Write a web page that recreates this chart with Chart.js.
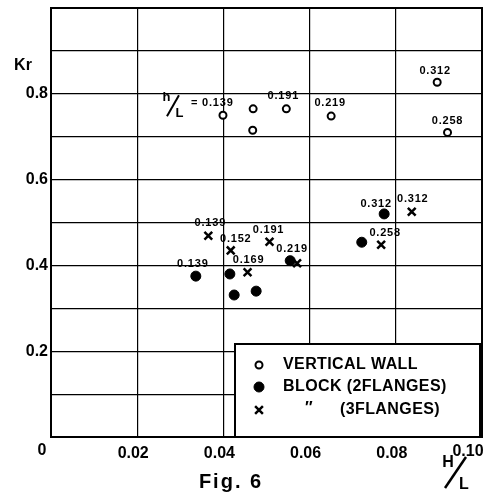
<!DOCTYPE html>
<html><head><meta charset="utf-8">
<script src="https://cdn.jsdelivr.net/npm/chart.js@4/dist/chart.umd.min.js"></script>
<style>html,body{margin:0;padding:0;background:#fff;}canvas{display:block;}</style>
</head><body>
<canvas id="c" width="494" height="496"></canvas>
<script>
// ---- data ----
const seriesNames = ['VERTICAL WALL', 'BLOCK (2FLANGES)', '(3FLANGES)'];
const wallX   = [0.0399, 0.0469, 0.0468, 0.0546, 0.0650, 0.0896, 0.0920];
const wallY   = [0.750, 0.765, 0.715, 0.765, 0.748, 0.827, 0.710];
const wallLabels = ['0.139', '', '', '0.191', '0.219', '0.312', '0.258'];
const block2X = [0.0336, 0.0415, 0.0425, 0.0476, 0.0555, 0.0721, 0.0773];
const block2Y = [0.375, 0.380, 0.331, 0.340, 0.411, 0.454, 0.520];
const block2Labels = ['0.139', '', '', '', '', '', '0.312'];
const block3X = [0.0365, 0.0417, 0.0456, 0.0507, 0.0571, 0.0766, 0.0837];
const block3Y = [0.469, 0.435, 0.384, 0.455, 0.405, 0.448, 0.525];
const block3Labels = ['0.139', '0.152', '0.169', '0.191', '0.219', '0.258', '0.312'];
const xTickValues = [0, 0.02, 0.04, 0.06, 0.08, 0.10];
const xTickLabels = ['0', '0.02', '0.04', '0.06', '0.08', '0.10'];
const yTickValues = [0.2, 0.4, 0.6, 0.8];
const yTickLabels = ['0.2', '0.4', '0.6', '0.8'];
const yAxisTitle = 'Kr';
const figTitle = 'Fig. 6';

const pts = (xs, ys) => xs.map((x, i) => ({x: x, y: ys[i]}));
const FONT = '"Liberation Sans", Arial, sans-serif';

// label offsets (pixel) per dataset/point, style only
const labelOffsets = [
  [null, null, null, [-3,-13], [-1,-13], [-2,-11], [0,-11]],
  [[-3,-12], null, null, null, null, null, [-8,-10]],
  [[2,-13], [5,-11], [1,-12], [-1,-12], [-5,-14], [4,-12], [1,-13]]
];
const allLabels = [wallLabels, block2Labels, block3Labels];

function findTick(values, labels, v) {
  for (let i = 0; i < values.length; i++) if (Math.abs(values[i] - v) < 1e-6) return labels[i];
  return '';
}

const annotate = {
  id: 'annotate',
  afterDatasetsDraw(chart) {
    const ctx = chart.ctx, a = chart.chartArea;
    ctx.save();
    // outer frame
    ctx.strokeStyle = '#000'; ctx.lineWidth = 2;
    ctx.strokeRect(a.left, a.top, a.right - a.left, a.bottom - a.top);

    // end tick labels of the x axis (placed like the original: corner "0", raised "0.10")
    const xs = chart.scales.x;
    ctx.fillStyle = '#000';
    ctx.font = 'bold 16px ' + FONT;
    ctx.textAlign = 'center'; ctx.textBaseline = 'middle';
    ctx.fillText(xTickLabels[0], xs.getPixelForValue(xTickValues[0]) - 9, a.bottom + 14);
    ctx.fillText(xTickLabels[xTickLabels.length - 1], xs.getPixelForValue(xTickValues[xTickValues.length - 1]) - 14, a.bottom + 15);

    // point labels
    ctx.font = 'bold 11px ' + FONT;
    ctx.letterSpacing = '0.8px';
    chart.data.datasets.forEach((ds, di) => {
      const meta = chart.getDatasetMeta(di);
      meta.data.forEach((el, i) => {
        const txt = allLabels[di][i];
        if (!txt) return;
        if (di === 0 && i === 0) {
          // "h/L = 0.139"
          const px = el.x, py = el.y;
          ctx.textAlign = 'left';
          ctx.fillText('= ' + txt, px - 32, py - 12);
          ctx.font = 'bold 13px ' + FONT;
          ctx.textAlign = 'center';
          ctx.fillText('h', px - 56, py - 18);
          ctx.fillText('L', px - 43, py - 2);
          ctx.lineWidth = 2;
          ctx.beginPath(); ctx.moveTo(px - 56, py + 1); ctx.lineTo(px - 44, py - 20); ctx.stroke();
          ctx.font = 'bold 11px ' + FONT;
          return;
        }
        const off = labelOffsets[di][i] || [0, -12];
        ctx.fillText(txt, el.x + off[0], el.y + off[1]);
      });
    });
    ctx.letterSpacing = '0px';

    // legend box
    const lx = 235, ly = 344, lw = a.right - 2 - lx, lh = a.bottom - ly;
    ctx.fillStyle = '#fff';
    ctx.fillRect(lx, ly, lw, lh);
    ctx.strokeStyle = '#000'; ctx.lineWidth = 2;
    ctx.strokeRect(lx, ly, lw, lh);
    const rows = [365, 387, 410];
    chart.data.datasets.forEach((ds, di) => {
      ctx.fillStyle = ds.backgroundColor; ctx.strokeStyle = ds.borderColor; ctx.lineWidth = ds.borderWidth;
      Chart.helpers.drawPoint(ctx, {pointStyle: ds.pointStyle, radius: ds.pointRadius, borderWidth: ds.borderWidth, rotation: 0}, 259, rows[di]);
    });
    ctx.fillStyle = '#000';
    ctx.font = 'bold 16px ' + FONT;
    ctx.letterSpacing = '0.4px';
    ctx.textAlign = 'left'; ctx.textBaseline = 'middle';
    ctx.fillText(seriesNames[0], 283, rows[0]);
    ctx.fillText(seriesNames[1], 283, rows[1]);
    ctx.fillText('\u2033', 305, rows[2] - 1);
    ctx.fillText(seriesNames[2], 340, rows[2]);

    // y axis title
    ctx.font = 'bold 16px ' + FONT;
    ctx.letterSpacing = '0px';
    ctx.textAlign = 'center';
    ctx.fillText(yAxisTitle, 23, 66);

    // Fig. 6
    ctx.font = 'bold 20px ' + FONT;
    ctx.letterSpacing = '2px';
    ctx.fillText(figTitle, 231, 482);
    ctx.letterSpacing = '0px';

    // H/L axis title
    ctx.font = 'bold 16px ' + FONT;
    ctx.fillText('H', 448, 463);
    ctx.fillText('L', 464, 485);
    ctx.lineWidth = 2.5;
    ctx.beginPath(); ctx.moveTo(445, 488); ctx.lineTo(466, 457); ctx.stroke();
    ctx.restore();
  }
};

new Chart(document.getElementById('c'), {
  type: 'scatter',
  data: {
    datasets: [
      {label: seriesNames[0], data: pts(wallX, wallY), pointStyle: 'circle', pointRadius: 3.5,
       borderWidth: 2, backgroundColor: '#fff', borderColor: '#000'},
      {label: seriesNames[1], data: pts(block2X, block2Y), pointStyle: 'circle', pointRadius: 5,
       borderWidth: 1, backgroundColor: '#000', borderColor: '#000'},
      {label: seriesNames[2], data: pts(block3X, block3Y), pointStyle: 'crossRot', pointRadius: 5.5,
       borderWidth: 2.5, backgroundColor: '#000', borderColor: '#000'}
    ]
  },
  options: {
    responsive: false, animation: false, devicePixelRatio: 1,
    layout: {padding: {left: 0, right: 12, top: 8, bottom: 0}},
    plugins: {legend: {display: false}, tooltip: {enabled: false}},
    scales: {
      x: {
        type: 'linear', min: 0, max: 0.1,
        ticks: {stepSize: 0.02, autoSkip: false, maxRotation: 0, padding: 7, labelOffset: -4,
          color: '#000', font: {family: FONT, size: 16, weight: 'bold'},
          callback: (v, i, ticks) => (i === 0 || i === ticks.length - 1) ? '' : findTick(xTickValues, xTickLabels, v)},
        grid: {color: '#000', lineWidth: 1.2, drawTicks: false},
        border: {color: '#000', width: 2},
        afterFit(s) { s.height = 59; s.paddingLeft = 0; s.paddingRight = 0; }
      },
      y: {
        type: 'linear', min: 0, max: 1,
        ticks: {stepSize: 0.1, autoSkip: false, padding: 3,
          color: '#000', font: {family: FONT, size: 16, weight: 'bold'},
          callback: v => findTick(yTickValues, yTickLabels, v)},
        grid: {color: '#000', lineWidth: 1.2, drawTicks: false},
        border: {color: '#000', width: 2},
        afterFit(s) { s.width = 51; s.paddingTop = 0; s.paddingBottom = 0; }
      }
    }
  },
  plugins: [annotate]
});
</script>
</body></html>
